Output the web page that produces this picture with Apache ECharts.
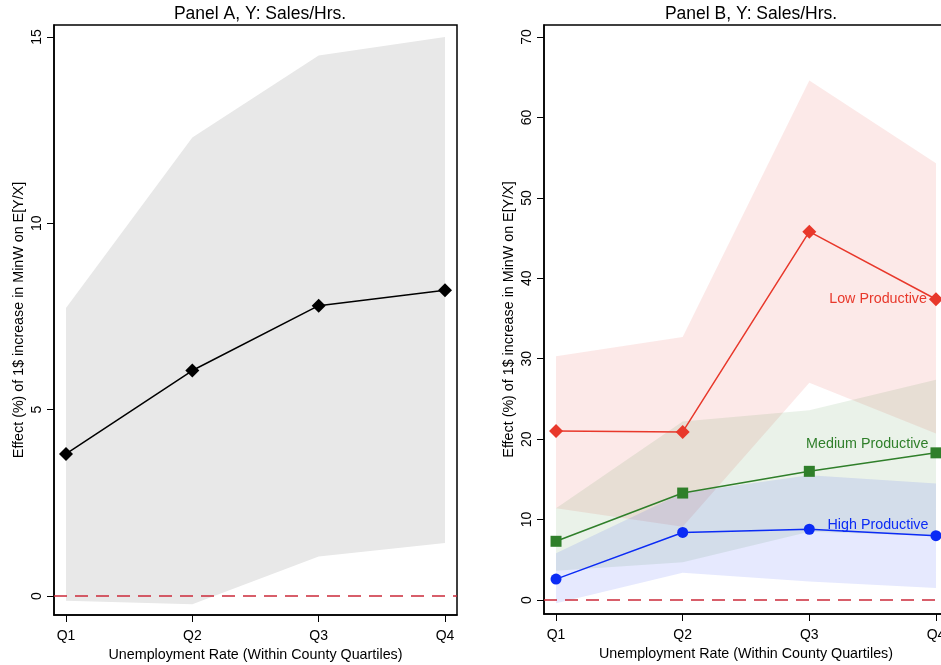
<!DOCTYPE html>
<html>
<head>
<meta charset="utf-8">
<script src="https://cdn.jsdelivr.net/npm/echarts@6/dist/echarts.min.js"></script>
<style>
  html, body { margin: 0; padding: 0; background: #fff; }
  #chart { width: 941px; height: 665px; }
</style>
</head>
<body>
<div id="chart"></div>
<script>
// quartiles on the x axis
const quarters = ["Q1", "Q2", "Q3", "Q4"];
const xPos = [1, 2, 3, 4];

// Panel A
const effectA = [3.81, 6.05, 7.79, 8.2];
const upperA = [7.73, 12.3, 14.5, 15.0];
const lowerA = [-0.13, -0.22, 1.06, 1.42];
const ticksA = [0, 5, 10, 15];

// Panel B
const lowEff = [21.0, 20.9, 45.8, 37.4];
const lowUpper = [30.3, 32.7, 64.6, 54.3];
const lowLower = [11.4, 9.1, 27.0, 20.7];
const medEff = [7.3, 13.3, 16.0, 18.3];
const medUpper = [11.4, 22.2, 23.6, 27.4];
const medLower = [3.65, 4.7, 8.5, 8.0];
const highEff = [2.6, 8.4, 8.8, 8.0];
const highUpper = [5.8, 13.3, 15.5, 14.5];
const highLower = [-0.4, 3.4, 2.3, 1.5];
const ticksB = [0, 10, 20, 30, 40, 50, 60, 70];

const font = "Liberation Sans, Arial, sans-serif";
const yName = "Effect (%) of 1$ increase in MinW on E[Y/X]";
const xName = "Unemployment Rate (Within County Quartiles)";

// confidence band drawn as one polygon through the axes
function band(gi, upper, lower, fill) {
  return {
    type: "custom",
    xAxisIndex: gi,
    yAxisIndex: gi,
    silent: true,
    z: 1,
    data: [[xPos[0], upper[0]]],
    renderItem: (params, api) => {
      const pts = [];
      xPos.forEach((x, i) => pts.push(api.coord([x, upper[i]])));
      for (let i = xPos.length - 1; i >= 0; i--) pts.push(api.coord([xPos[i], lower[i]]));
      return { type: "polygon", shape: { points: pts }, style: { fill: fill } };
    },
  };
}

function line(gi, vals, color, symbol, size, labelText, offset) {
  const data = xPos.map((x, i) => [x, vals[i]]);
  if (labelText) {
    data[3] = {
      value: data[3],
      label: {
        show: true,
        formatter: labelText,
        position: "left",
        distance: 2,
        offset: offset,
        color: color,
        fontSize: 14.3,
        fontFamily: font,
      },
    };
  }
  return {
    type: "line",
    xAxisIndex: gi,
    yAxisIndex: gi,
    data: data,
    symbol: symbol,
    symbolSize: size,
    z: 5,
    lineStyle: { color: color, width: 1.5 },
    itemStyle: { color: color },
  };
}

function zeroLine(gi) {
  return {
    type: "line",
    xAxisIndex: gi,
    yAxisIndex: gi,
    data: [],
    z: 3,
    markLine: {
      silent: true,
      symbol: "none",
      label: { show: false },
      lineStyle: { color: "#cc2a3a", type: [13, 8], width: 1.5 },
      data: [{ yAxis: 0 }],
    },
  };
}

function xAxis(gi) {
  return {
    type: "value",
    gridIndex: gi,
    min: 0.905,
    max: 4.095,
    name: xName,
    nameLocation: "middle",
    nameGap: 30,
    nameTextStyle: { color: "#000", fontSize: 14.3, fontFamily: font },
    axisLine: { onZero: false, lineStyle: { color: "#000", width: 1.5 } },
    axisTick: { customValues: xPos, length: 7, lineStyle: { color: "#000" } },
    axisLabel: {
      customValues: xPos,
      formatter: (v) => quarters[xPos.indexOf(v)],
      color: "#000",
      fontSize: 14,
      fontFamily: font,
      margin: 14,
    },
    splitLine: { show: false },
  };
}

function yAxis(gi, min, max, ticks) {
  return {
    type: "value",
    gridIndex: gi,
    min: min,
    max: max,
    name: yName,
    nameLocation: "middle",
    nameGap: 28,
    nameTextStyle: { color: "#000", fontSize: 14.3, fontFamily: font },
    axisLine: { show: true, onZero: false, lineStyle: { color: "#000", width: 1.5 } },
    axisTick: { show: true, customValues: ticks, length: 7, lineStyle: { color: "#000" } },
    axisLabel: {
      customValues: ticks,
      rotate: 90,
      color: "#000",
      fontSize: 14,
      fontFamily: font,
      margin: 10,
    },
    splitLine: { show: false },
  };
}

const chart = echarts.init(document.getElementById("chart"));
chart.setOption({
  backgroundColor: "#fff",
  animation: false,
  title: [
    {
      text: "Panel A, Y: Sales/Hrs.",
      left: 255,
      top: 0,
      textAlign: "center",
      textStyle: { color: "#000", fontSize: 17.5, fontWeight: "normal", fontFamily: font },
    },
    {
      text: "Panel B, Y: Sales/Hrs.",
      left: 746,
      top: 0,
      textAlign: "center",
      textStyle: { color: "#000", fontSize: 17.5, fontWeight: "normal", fontFamily: font },
    },
  ],
  grid: [
    { left: 54, top: 25, width: 403, height: 590, outerBoundsMode: "none", show: true, borderColor: "#000", borderWidth: 1.5, backgroundColor: "#fff" },
    { left: 544, top: 25, width: 404, height: 589, outerBoundsMode: "none", show: true, borderColor: "#000", borderWidth: 1.5, backgroundColor: "#fff" },
  ],
  xAxis: [xAxis(0), xAxis(1)],
  yAxis: [yAxis(0, -0.51, 15.32, ticksA), yAxis(1, -1.74, 71.5, ticksB)],
  series: [
    band(0, upperA, lowerA, "#e8e8e8"),
    zeroLine(0),
    line(0, effectA, "#000", "diamond", 14),

    band(1, lowUpper, lowLower, "rgba(232,56,43,0.11)"),
    band(1, medUpper, medLower, "rgba(47,127,42,0.10)"),
    band(1, highUpper, highLower, "rgba(11,43,245,0.10)"),
    zeroLine(1),
    line(1, lowEff, "#e8382b", "diamond", 14, "Low Productive", [0, 0]),
    line(1, medEff, "#2f7f2a", "rect", 11, "Medium Productive", [0, -9]),
    line(1, highEff, "#0b2bf5", "circle", 11, "High Productive", [0, -11]),
  ],
});
</script>
</body>
</html>
